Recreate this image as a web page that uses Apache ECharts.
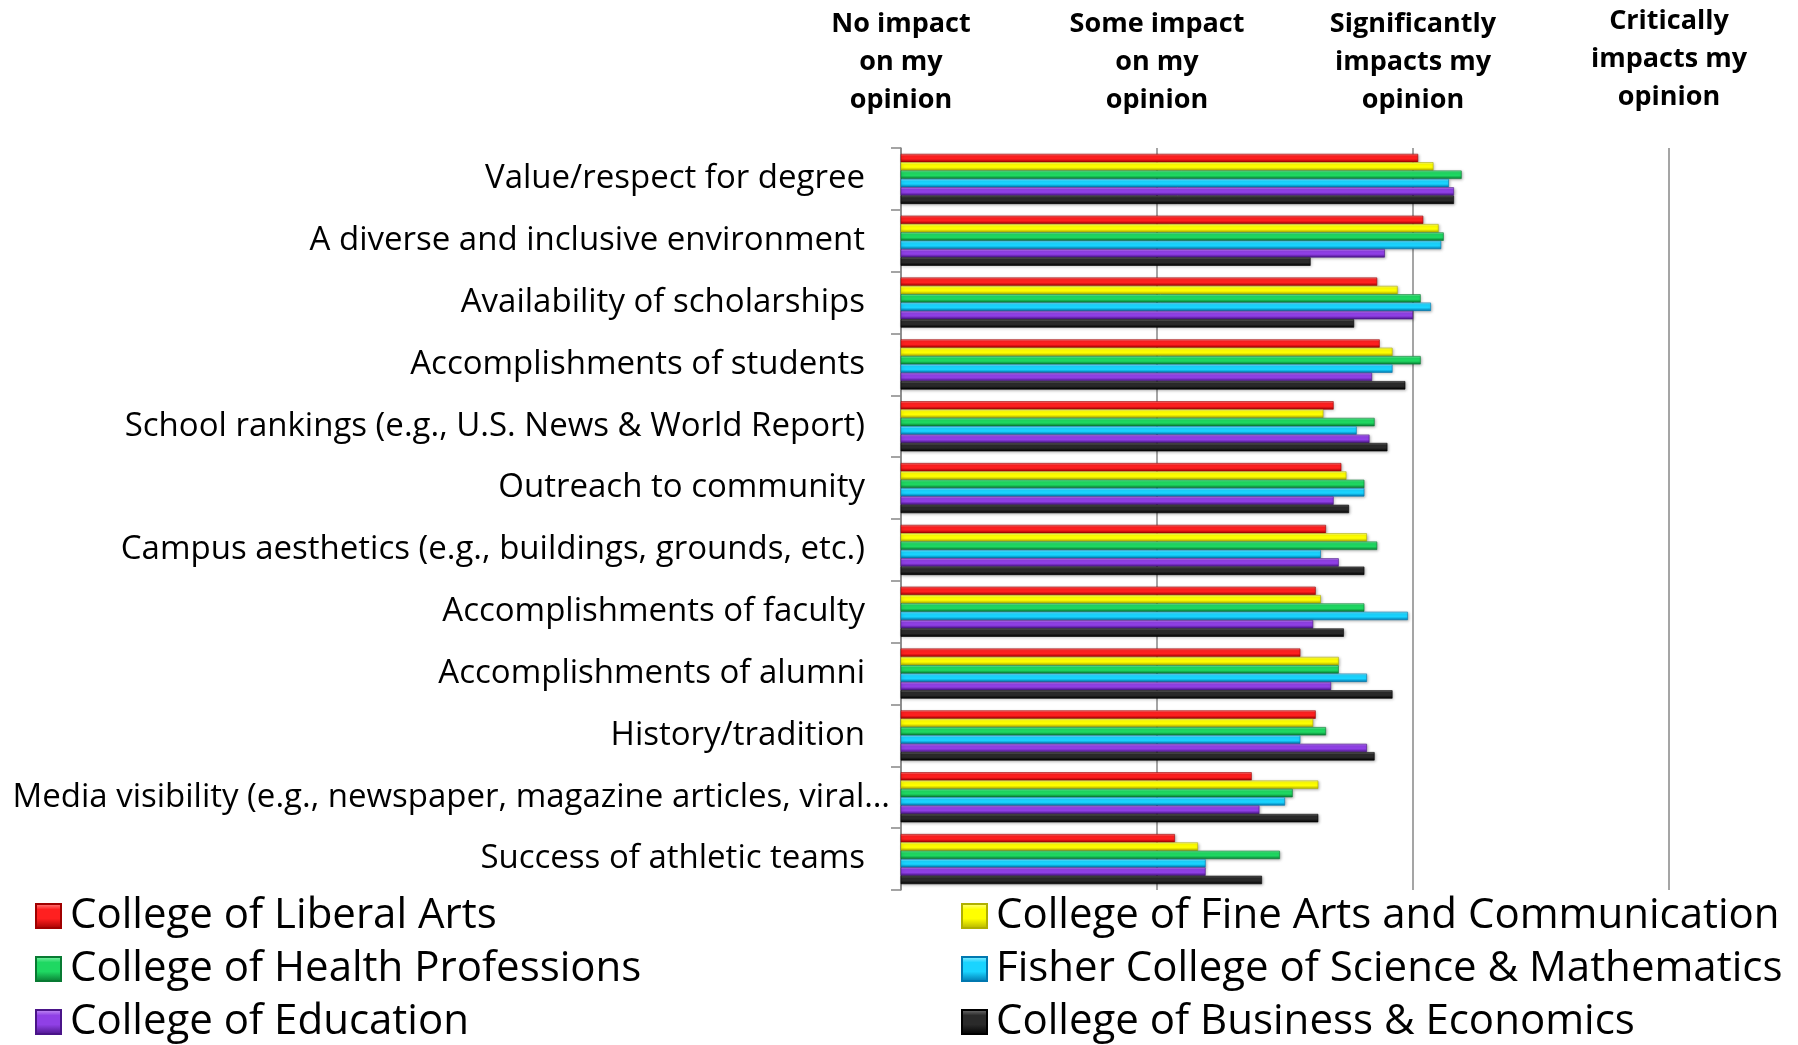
<!DOCTYPE html>
<html>
<head>
<meta charset="utf-8">
<script src="https://cdn.jsdelivr.net/npm/echarts@6/dist/echarts.min.js"></script>
<style>
  html, body { margin: 0; padding: 0; background: #fff; }
  #chart { width: 1798px; height: 1045px; }
</style>
</head>
<body>
<div id="chart"></div>
<script>
  // 类目 (top to bottom)
  var categories = [
    'Value/respect for degree',
    'A diverse and inclusive environment',
    'Availability of scholarships',
    'Accomplishments of students',
    'School rankings (e.g., U.S. News & World Report)',
    'Outreach to community',
    'Campus aesthetics (e.g., buildings, grounds, etc.)',
    'Accomplishments of faculty',
    'Accomplishments of alumni',
    'History/tradition',
    'Media visibility (e.g., newspaper, magazine articles, viral\u2026',
    'Success of athletic teams'
  ];

  // 刻度标签
  var tickLabels = {
    1: 'No impact\non my\nopinion',
    2: 'Some impact\non my\nopinion',
    3: 'Significantly\nimpacts my\nopinion',
    4: 'Critically\nimpacts my\nopinion'
  };

  var seriesNames = [
    'College of Liberal Arts',
    'College of Fine Arts and Communication',
    'College of Health Professions',
    'Fisher College of Science & Mathematics',
    'College of Education',
    'College of Business & Economics'
  ];

  // 数据
  var liberalArts = [3.02, 3.04, 2.86, 2.87, 2.69, 2.72, 2.66, 2.62, 2.56, 2.62, 2.37, 2.07];
  var fineArts    = [3.08, 3.10, 2.94, 2.92, 2.65, 2.74, 2.82, 2.64, 2.71, 2.61, 2.63, 2.16];
  var health      = [3.19, 3.12, 3.03, 3.03, 2.85, 2.81, 2.86, 2.81, 2.71, 2.66, 2.53, 2.48];
  var fisher      = [3.14, 3.11, 3.07, 2.92, 2.78, 2.81, 2.64, 2.98, 2.82, 2.56, 2.50, 2.19];
  var education   = [3.16, 2.89, 3.00, 2.84, 2.83, 2.69, 2.71, 2.61, 2.68, 2.82, 2.40, 2.19];
  var business    = [3.16, 2.60, 2.77, 2.97, 2.90, 2.75, 2.81, 2.73, 2.92, 2.85, 2.63, 2.41];

  var seriesData = [liberalArts, fineArts, health, fisher, education, business];

  // 颜色: [light, main, dark]
  var palette = [
    ['#ff8a8a', '#ff2020', '#a00000'],
    ['#ffff9a', '#ffff00', '#b0b000'],
    ['#8af5b0', '#1fd862', '#087a32'],
    ['#9af0ff', '#1ad4ff', '#0078b0'],
    ['#c99af5', '#9040e6', '#4a1488'],
    ['#777777', '#2a2a2a', '#000000']
  ];

  function grad(c) {
    return new echarts.graphic.LinearGradient(0, 0, 0, 1, [
      {offset: 0, color: c[0]},
      {offset: 0.25, color: c[1]},
      {offset: 0.6, color: c[1]},
      {offset: 1, color: c[2]}
    ]);
  }

  var font = '"Open Sans", "Noto Sans", sans-serif';

  // the truncated label sticks out past the others, like in Excel
  var yData = categories.map(function (c) {
    if (c.indexOf('Media') === 0) {
      return {value: c, textStyle: {padding: [0, -25, 0, 0]}};
    }
    return c;
  });

  var series = seriesNames.map(function (name, i) {
    return {
      name: name,
      type: 'bar',
      data: seriesData[i],
      barGap: '0%',
      barCategoryGap: '19%',
      itemStyle: {
        color: grad(palette[i]),
        borderColor: palette[i][2],
        borderWidth: 0.6,
        shadowColor: 'rgba(0,0,0,0.3)',
        shadowBlur: 3,
        shadowOffsetX: 1,
        shadowOffsetY: 1
      }
    };
  });

  // 图例 positions (2 columns x 3 rows)
  var legendLeft = [30, 956];
  var legendTop = [890, 943, 996];
  var legends = seriesNames.map(function (name, i) {
    return {
      data: [name],
      left: legendLeft[i % 2],
      top: legendTop[Math.floor(i / 2)],
      itemWidth: 25,
      itemHeight: 24,
      itemGap: 0,
      icon: 'rect',
      selectedMode: false,
      textStyle: {fontFamily: font, fontSize: 42, color: '#000', padding: [0, 0, 0, 4]}
    };
  });

  var chart = echarts.init(document.getElementById('chart'));
  chart.setOption({
    animation: false,
    backgroundColor: '#fff',
    grid: {left: 901, right: 129, top: 148, bottom: 155, containLabel: false, outerBoundsMode: 'none'},
    legend: legends,
    xAxis: {
      type: 'value',
      position: 'top',
      min: 1,
      max: 4,
      interval: 1,
      axisLine: {show: false},
      axisTick: {show: false},
      splitLine: {show: true, lineStyle: {color: '#878787', width: 1.5}},
      axisLabel: {
        margin: 29,
        fontFamily: font,
        fontSize: 27,
        fontWeight: 'bold',
        color: '#000',
        lineHeight: 38,
        align: 'center',
        formatter: function (v) {
          if (v === 4) {
            return '{c|' + tickLabels[v] + '}';
          }
          return tickLabels[v] || '';
        },
        rich: {
          c: {fontFamily: font, fontSize: 27, fontWeight: 'bold', lineHeight: 38, padding: [0, 0, 6, 0]}
        }
      }
    },
    yAxis: {
      type: 'category',
      inverse: true,
      data: yData,
      axisLine: {show: true, lineStyle: {color: '#878787', width: 1.5}},
      axisTick: {show: true, length: 10, lineStyle: {color: '#878787', width: 1.5}},
      axisLabel: {margin: 36, fontFamily: font, fontSize: 33, color: '#000'}
    },
    series: series
  });
</script>
</body>
</html>
